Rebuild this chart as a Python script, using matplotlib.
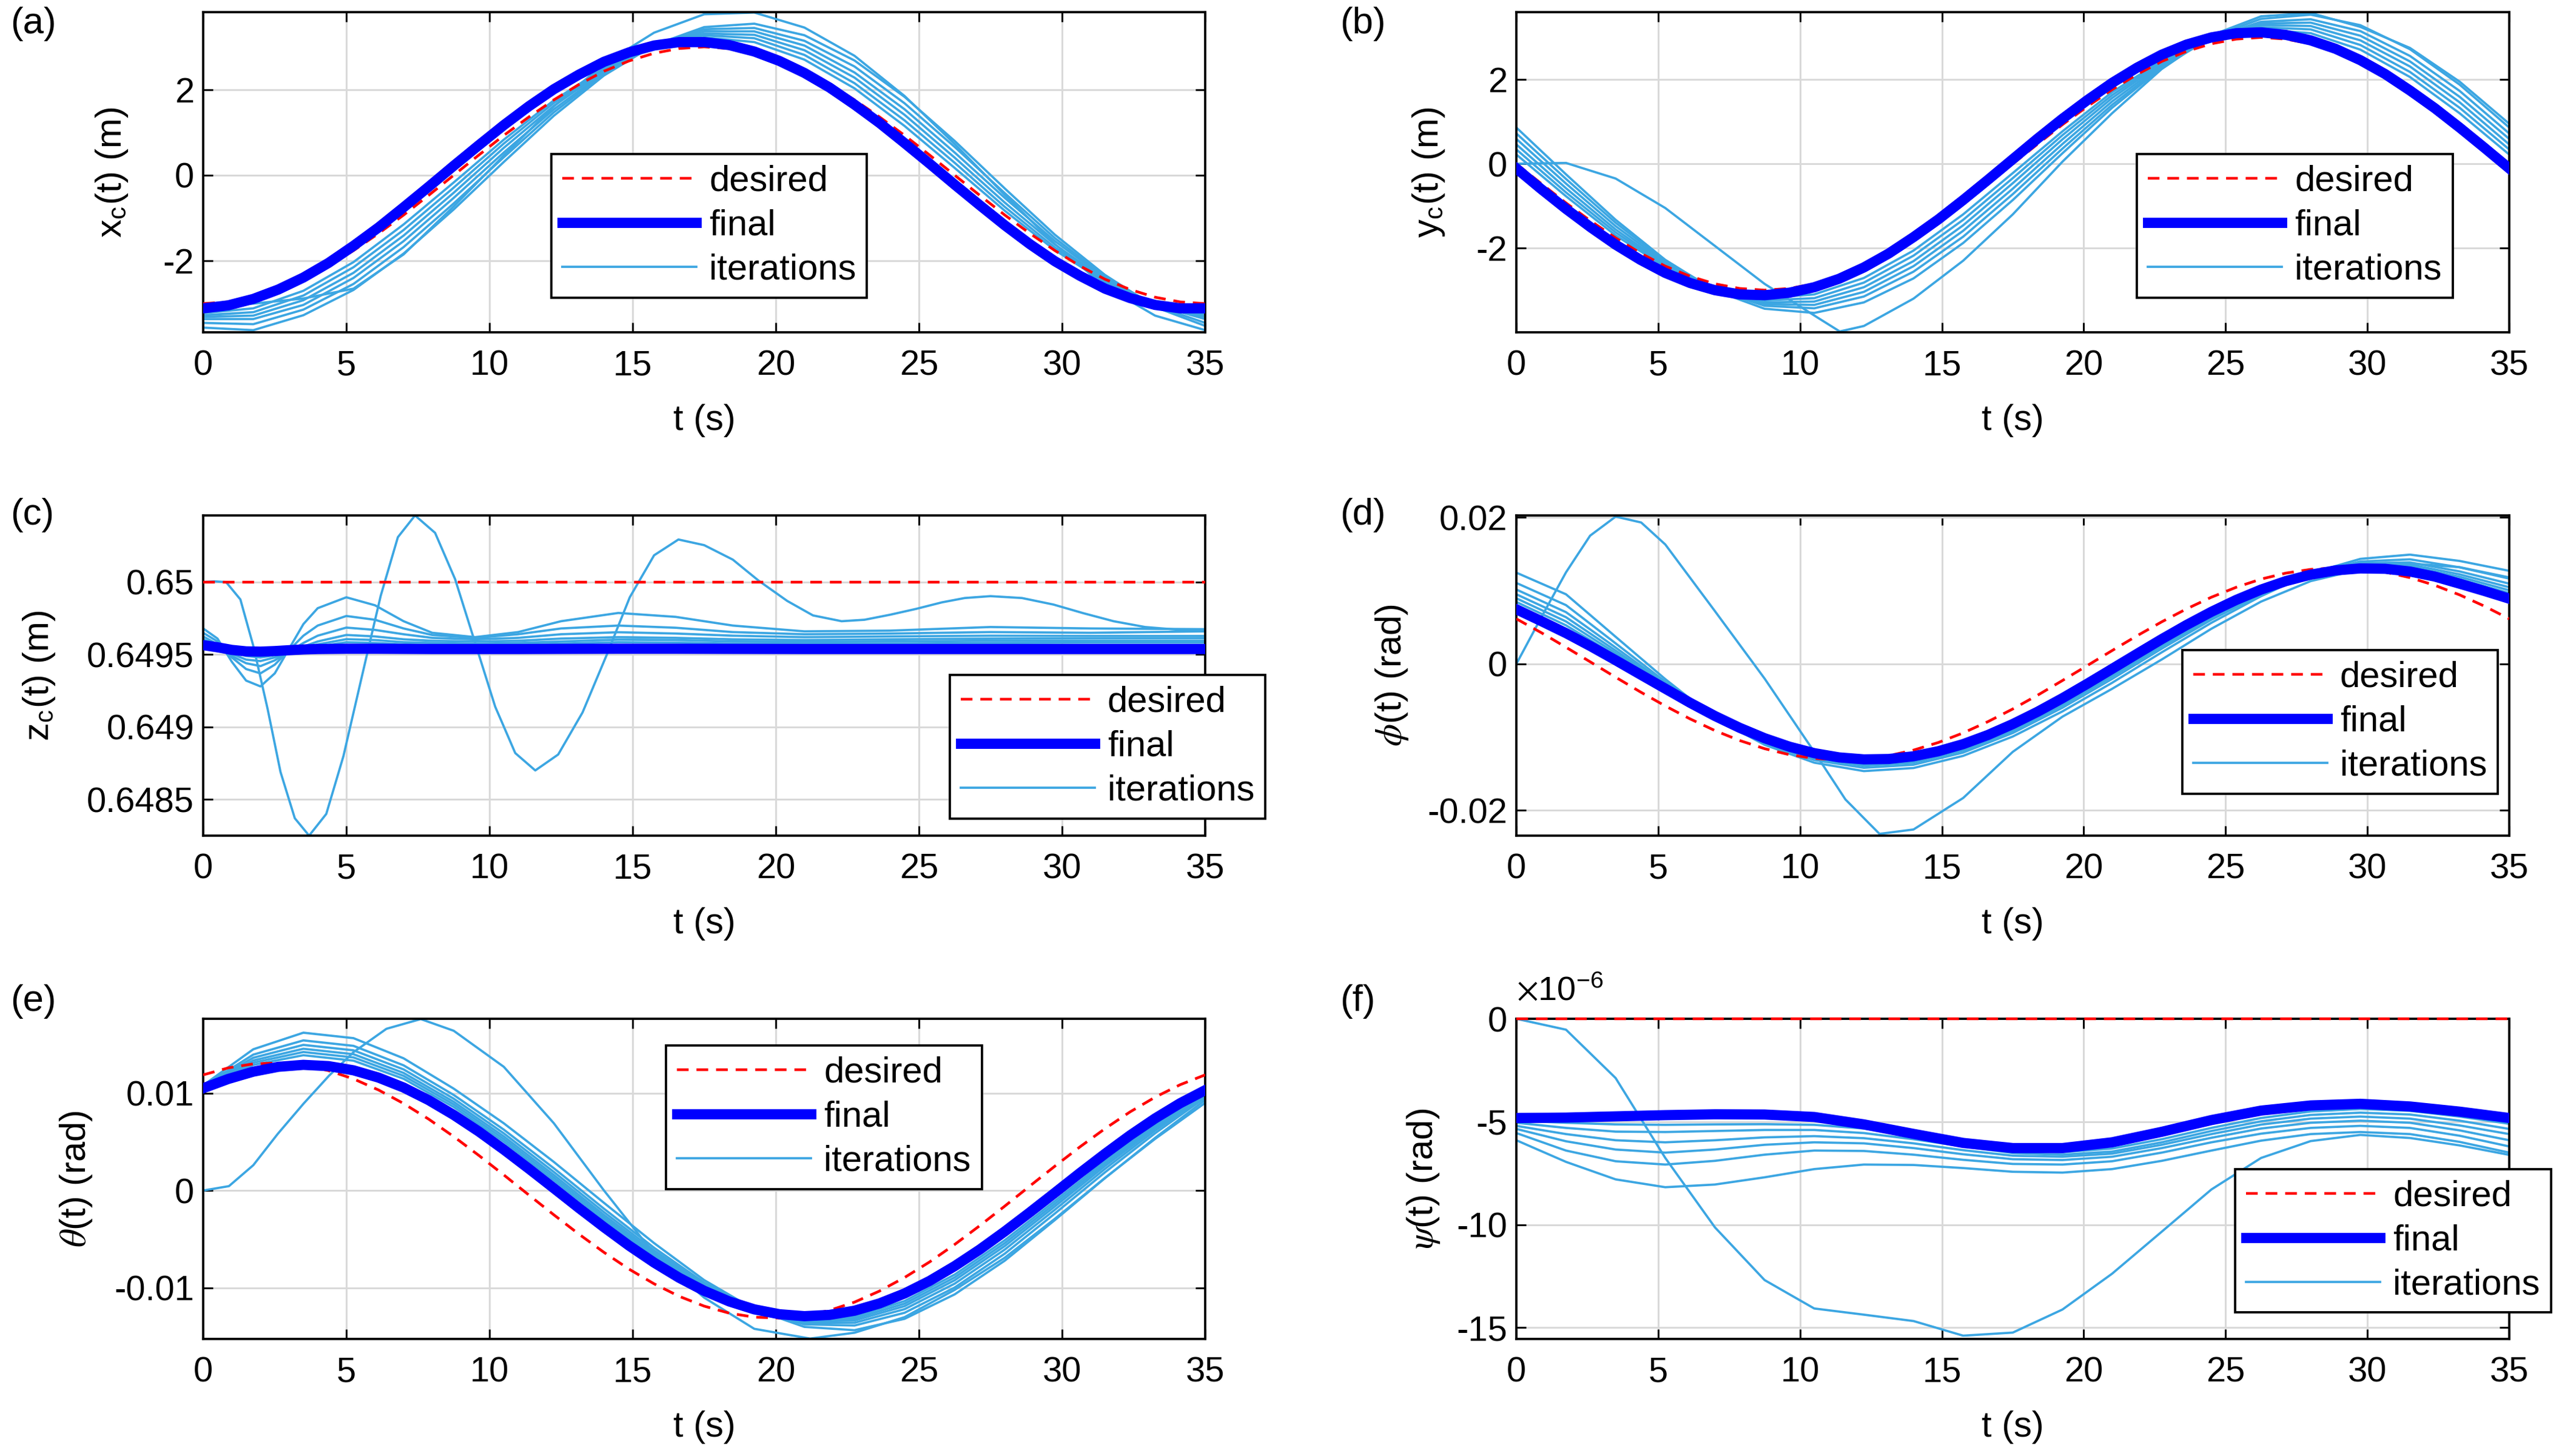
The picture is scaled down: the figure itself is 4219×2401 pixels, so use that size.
import matplotlib
matplotlib.use("Agg")
import matplotlib.pyplot as plt
from matplotlib.lines import Line2D

plt.rcParams["font.family"] = ["Liberation Sans", "DejaVu Sans"]
plt.rcParams["mathtext.fontset"] = "stix"
plt.rcParams["axes.unicode_minus"] = False

# common time samples (s)
t_grid = [0, 1.75, 3.5, 5.25, 7, 8.75, 10.5, 12.25, 14, 15.75, 17.5,
          19.25, 21, 22.75, 24.5, 26.25, 28, 29.75, 31.5, 33.25, 35]
t_fine = [0, 0.875, 1.75, 2.625, 3.5, 4.375, 5.25, 6.125, 7, 7.875, 8.75, 9.625,
          10.5, 11.375, 12.25, 13.125, 14, 14.875, 15.75, 16.625, 17.5, 18.375,
          19.25, 20.125, 21, 21.875, 22.75, 23.625, 24.5, 25.375, 26.25, 27.125,
          28, 28.875, 29.75, 30.625, 31.5, 32.375, 33.25, 34.125, 35]

# (a) x_c (m)
xc_desired = [-3.00, -2.96, -2.85, -2.67, -2.43, -2.12, -1.76, -1.36, -0.93, -0.47, 0.00,
              0.47, 0.93, 1.36, 1.76, 2.12, 2.43, 2.67, 2.85, 2.96, 3.00,
              2.96, 2.85, 2.67, 2.43, 2.12, 1.76, 1.36, 0.93, 0.47, 0.00,
              -0.47, -0.93, -1.36, -1.76, -2.12, -2.43, -2.67, -2.85, -2.96, -3.00]
xc_final = [-3.11, -3.04, -2.89, -2.67, -2.39, -2.05, -1.65, -1.22, -0.75, -0.27, 0.22,
            0.70, 1.17, 1.61, 2.01, 2.35, 2.65, 2.87, 3.03, 3.11, 3.11,
            3.04, 2.89, 2.67, 2.39, 2.05, 1.65, 1.22, 0.75, 0.27, -0.22,
            -0.70, -1.17, -1.61, -2.01, -2.35, -2.65, -2.87, -3.03, -3.11, -3.11]
xc_iters = [
    [-3.22, -3.11, -2.70, -2.03, -1.15, -0.17, 0.83, 1.75, 2.50, 3.01, 3.22,
     3.11, 2.70, 2.03, 1.15, 0.17, -0.83, -1.75, -2.50, -3.01, -3.22],
    [-3.27, -3.20, -2.81, -2.15, -1.28, -0.29, 0.74, 1.69, 2.48, 3.02, 3.27,
     3.20, 2.81, 2.15, 1.28, 0.29, -0.74, -1.69, -2.48, -3.02, -3.27],
    [-3.31, -3.28, -2.92, -2.28, -1.41, -0.41, 0.64, 1.62, 2.44, 3.03, 3.31,
     3.28, 2.92, 2.28, 1.41, 0.41, -0.64, -1.62, -2.44, -3.03, -3.31],
    [-3.36, -3.36, -3.03, -2.40, -1.54, -0.53, 0.53, 1.54, 2.40, 3.03, 3.36,
     3.36, 3.03, 2.40, 1.54, 0.53, -0.53, -1.54, -2.40, -3.03, -3.36],
    [-3.45, -3.48, -3.14, -2.54, -1.68, -0.66, 0.42, 1.47, 2.37, 3.03, 3.41,
     3.44, 3.14, 2.54, 1.68, 0.66, -0.42, -1.47, -2.37, -3.05, -3.45],
    [-3.56, -3.62, -3.27, -2.68, -1.83, -0.80, 0.31, 1.39, 2.33, 3.04, 3.46,
     3.54, 3.27, 2.68, 1.83, 0.80, -0.31, -1.39, -2.33, -3.08, -3.52],
    [-3.05, -3.00, -2.88, -2.65, -1.85, -0.73, 0.46, 1.61, 2.60, 3.33, 3.76,
     3.80, 3.45, 2.79, 1.85, 0.73, -0.46, -1.61, -2.60, -3.28, -3.62],
]

# (b) y_c (m)
yc_desired = [0.00, -0.47, -0.93, -1.36, -1.76, -2.12, -2.43, -2.67, -2.85, -2.96, -3.00,
              -2.96, -2.85, -2.67, -2.43, -2.12, -1.76, -1.36, -0.93, -0.47, 0.00,
              0.47, 0.93, 1.36, 1.76, 2.12, 2.43, 2.67, 2.85, 2.96, 3.00,
              2.96, 2.85, 2.67, 2.43, 2.12, 1.76, 1.36, 0.93, 0.47, 0.00]
yc_final = [-0.11, -0.60, -1.07, -1.51, -1.92, -2.28, -2.59, -2.83, -3.00, -3.10, -3.12,
            -3.06, -2.93, -2.73, -2.46, -2.13, -1.74, -1.32, -0.86, -0.38, 0.11,
            0.60, 1.07, 1.51, 1.92, 2.28, 2.59, 2.83, 3.00, 3.10, 3.12,
            3.06, 2.93, 2.73, 2.46, 2.13, 1.74, 1.32, 0.86, 0.38, -0.11]
yc_iters = [
    [0.22, -0.77, -1.70, -2.45, -2.97, -3.19, -3.10, -2.71, -2.06, -1.20, -0.22,
     0.77, 1.70, 2.45, 2.97, 3.19, 3.10, 2.71, 2.06, 1.20, 0.22],
    [0.34, -0.68, -1.63, -2.42, -2.98, -3.24, -3.19, -2.82, -2.18, -1.33, -0.34,
     0.68, 1.63, 2.42, 2.98, 3.24, 3.19, 2.82, 2.18, 1.33, 0.34],
    [0.46, -0.58, -1.56, -2.39, -2.98, -3.29, -3.27, -2.93, -2.31, -1.46, -0.46,
     0.58, 1.56, 2.39, 2.98, 3.29, 3.27, 2.93, 2.31, 1.46, 0.46],
    [0.59, -0.47, -1.48, -2.35, -2.98, -3.33, -3.35, -3.04, -2.43, -1.59, -0.59,
     0.47, 1.48, 2.35, 2.98, 3.33, 3.35, 3.04, 2.43, 1.59, 0.59],
    [0.72, -0.36, -1.40, -2.31, -2.99, -3.37, -3.43, -3.15, -2.56, -1.73, -0.72,
     0.36, 1.40, 2.31, 2.99, 3.37, 3.43, 3.15, 2.56, 1.73, 0.72],
    [0.86, -0.25, -1.33, -2.28, -3.01, -3.44, -3.54, -3.29, -2.72, -1.88, -0.86,
     0.25, 1.33, 2.28, 3.01, 3.44, 3.54, 3.29, 2.72, 1.88, 0.86],
]
t_yc_first = [0, 1.75, 3.5, 5.25, 7, 8.75, 10.5, 11.4, 12.25, 14, 15.75, 17.5,
              19.25, 21, 22.75, 24.5, 26.25, 28, 29.75, 31.5, 33.25, 35]
yc_first = [0.00, 0.02, -0.35, -1.05, -1.95, -2.85, -3.60, -3.98, -3.85, -3.20, -2.30,
            -1.20, 0.05, 1.20, 2.25, 3.05, 3.50, 3.58, 3.25, 2.75, 1.95, 0.95]

# (c) z_c (m)
t_zc = [0, 0.5, 1, 1.5, 2, 2.5, 3, 3.5, 4, 5, 6, 7, 8, 9.5, 11, 12.5,
        14.5, 16.5, 18.5, 21, 24, 27.5, 31, 35]
zc_desired = [0.65, 0.65]
zc_final = [0.649565, 0.64955, 0.649532, 0.649522, 0.64952, 0.649524, 0.64953, 0.649535,
            0.649538, 0.64954, 0.64954, 0.649539, 0.649538, 0.649538, 0.649538, 0.649539,
            0.64954, 0.64954, 0.649539, 0.649538, 0.649538, 0.649538, 0.649538, 0.649538]
zc_iters = [
    [0.64968, 0.64961, 0.64945, 0.64932, 0.64928, 0.64937, 0.64954, 0.64971,
     0.64982, 0.649895, 0.64984, 0.64973, 0.64965, 0.64962, 0.649655, 0.64973,
     0.649787, 0.64976, 0.6497, 0.64966, 0.649665, 0.64969, 0.64968, 0.649675],
    [0.64965, 0.64959, 0.64948, 0.6494, 0.64937, 0.64943, 0.64953, 0.64963,
     0.6497, 0.649766, 0.64974, 0.64968, 0.649635, 0.649615, 0.64964, 0.64968,
     0.6497, 0.649685, 0.649655, 0.64964, 0.649645, 0.649655, 0.64965, 0.64966],
    [0.649625, 0.64957, 0.64949, 0.64944, 0.64942, 0.64946, 0.64952, 0.64958,
     0.64963, 0.649686, 0.64967, 0.64964, 0.649615, 0.649605, 0.649615, 0.64964,
     0.649654, 0.649645, 0.64963, 0.64962, 0.649625, 0.64963, 0.649628, 0.649628],
    [0.649605, 0.64956, 0.649505, 0.649465, 0.649455, 0.64948, 0.649515, 0.649555,
     0.64959, 0.649635, 0.649625, 0.649605, 0.649595, 0.64959, 0.649595, 0.64961,
     0.64962, 0.649615, 0.649605, 0.6496, 0.649605, 0.64961, 0.649612, 0.649614],
    [0.64959, 0.649555, 0.649515, 0.64949, 0.64948, 0.649495, 0.64952, 0.649545,
     0.64957, 0.649606, 0.6496, 0.649585, 0.64958, 0.649575, 0.64958, 0.64959,
     0.649603, 0.6496, 0.64959, 0.649588, 0.64959, 0.649595, 0.649595, 0.649596],
    [0.649575, 0.64955, 0.64952, 0.649505, 0.6495, 0.64951, 0.649525, 0.64954,
     0.649555, 0.649585, 0.64958, 0.64957, 0.649565, 0.649562, 0.649567, 0.649575,
     0.649585, 0.649582, 0.649575, 0.649573, 0.649575, 0.64958, 0.649582, 0.649582],
]
t_zc_first = [0, 0.4, 0.8, 1.3, 1.75, 2.25, 2.7, 3.2, 3.7, 4.3, 4.9, 5.55, 6.2, 6.8,
              7.4, 8.1, 8.8, 9.5, 10.2, 10.9, 11.6, 12.4, 13.25, 14.1, 14.9, 15.75,
              16.6, 17.5, 18.5, 19.4, 20.4, 21.3, 22.3, 23.1, 24.0, 24.9, 25.8, 26.6,
              27.5, 28.6, 29.7, 30.75, 31.8, 32.9, 34.0, 35]
zc_first = [0.65, 0.650005, 0.65, 0.64988, 0.64956, 0.649125, 0.64869, 0.64837, 0.64825,
            0.6484, 0.6488, 0.649355, 0.649905, 0.65031, 0.65046, 0.65034, 0.65002,
            0.64958, 0.64914, 0.64882, 0.6487, 0.64881, 0.6491, 0.6495, 0.649895,
            0.650185, 0.650294, 0.650255, 0.650155, 0.65001, 0.64987, 0.64977, 0.64973,
            0.64974, 0.649775, 0.649815, 0.64986, 0.64989, 0.649903, 0.64989, 0.649845,
            0.649785, 0.64973, 0.64969, 0.649672, 0.649672]

# (d) phi (rad)
phi_desired = [0.00615, 0.00427, 0.00227, 0.00023, -0.00182, -0.00383, -0.00574, -0.00751,
               -0.0091, -0.01046, -0.01157, -0.01239, -0.0129, -0.0131, -0.01297, -0.01253,
               -0.01177, -0.01073, -0.00942, -0.00788, -0.00615, -0.00427, -0.00227,
               -0.00023, 0.00182, 0.00383, 0.00574, 0.00751, 0.0091, 0.01046, 0.01157,
               0.01239, 0.0129, 0.0131, 0.01297, 0.01253, 0.01177, 0.01073, 0.00942,
               0.00788, 0.00615]
phi_final = [0.00745, 0.00585, 0.0042, 0.0024, 0.0005, -0.00145, -0.00338, -0.00531,
             -0.00711, -0.00873, -0.01014, -0.0113, -0.01218, -0.01276, -0.01303, -0.01298,
             -0.01261, -0.01192, -0.01095, -0.0097, -0.00821, -0.00653, -0.00468, -0.00271,
             -0.00068, 0.00136, 0.00338, 0.00531, 0.00711, 0.00873, 0.01014, 0.0113,
             0.01218, 0.01276, 0.01303, 0.01298, 0.01261, 0.01192, 0.01095, 0.00995, 0.0089]
phi_iters = [
    [0.01245, 0.0095, 0.0037, -0.00208, -0.00741, -0.01104, -0.01348, -0.01463, -0.01421,
     -0.01255, -0.00991, -0.00648, -0.00258, 0.00158, 0.00561, 0.00924, 0.01238, 0.01433,
     0.01491, 0.01405, 0.0127],
    [0.01105, 0.00802, 0.0028, -0.00244, -0.00733, -0.01079, -0.01312, -0.01418, -0.01376,
     -0.0121, -0.00943, -0.00598, -0.00205, 0.00208, 0.00603, 0.00949, 0.01232, 0.01397,
     0.01427, 0.01318, 0.01164],
    [0.01015, 0.00706, 0.00223, -0.00268, -0.00727, -0.01063, -0.01288, -0.01389, -0.01347,
     -0.01181, -0.00913, -0.00565, -0.00171, 0.00241, 0.0063, 0.00965, 0.01229, 0.01373,
     0.01385, 0.01262, 0.01095],
    [0.0095, 0.00637, 0.00181, -0.00285, -0.00723, -0.01051, -0.01271, -0.01369, -0.01327,
     -0.01161, -0.00891, -0.00542, -0.00146, 0.00264, 0.00649, 0.00977, 0.01226, 0.01356,
     0.01355, 0.01222, 0.01046],
    [0.00895, 0.00579, 0.00146, -0.00299, -0.0072, -0.01041, -0.01257, -0.01351, -0.01309,
     -0.01143, -0.00872, -0.00522, -0.00125, 0.00284, 0.00666, 0.00987, 0.01224, 0.01342,
     0.0133, 0.01188, 0.01004],
    [0.00845, 0.00526, 0.00114, -0.00312, -0.00717, -0.01032, -0.01244, -0.01335, -0.01293,
     -0.01127, -0.00855, -0.00504, -0.00106, 0.00302, 0.00681, 0.00996, 0.01222, 0.01329,
     0.01307, 0.01157, 0.00966],
]
t_phi_first = [0, 0.9, 1.75, 2.6, 3.5, 4.4, 5.25, 7, 8.75, 10.5, 11.6, 12.8, 14, 15.75,
               17.5, 19.25, 21, 22.75, 24.5, 26.25, 28, 29.75, 31.5, 33.25, 35]
phi_first = [0.0, 0.0065, 0.0125, 0.0175, 0.0201, 0.0193, 0.0163, 0.0072, -0.002, -0.012,
             -0.0185, -0.0232, -0.0226, -0.0183, -0.012, -0.0072, -0.0034, 0.0006, 0.0048,
             0.0085, 0.0113, 0.0129, 0.0137, 0.0132, 0.0118]

# (e) theta (rad)
theta_desired = [0.01187, 0.01259, 0.013, 0.01309, 0.01286, 0.01231, 0.01146, 0.01032,
                 0.00893, 0.00733, 0.00554, 0.00361, 0.0016, -0.00046, -0.0025, -0.00448,
                 -0.00635, -0.00807, -0.00958, -0.01086, -0.01187, -0.01259, -0.013,
                 -0.01309, -0.01286, -0.01231, -0.01146, -0.01032, -0.00893, -0.00733,
                 -0.00554, -0.00361, -0.0016, 0.00046, 0.0025, 0.00448, 0.00635, 0.00807,
                 0.00958, 0.01086, 0.01187]
theta_final = [0.0105, 0.01145, 0.0122, 0.0127, 0.0129, 0.01277, 0.01234, 0.01159, 0.01057,
               0.00928, 0.00776, 0.00606, 0.0042, 0.00224, 0.00023, -0.0018, -0.00377,
               -0.00566, -0.0074, -0.00896, -0.0103, -0.01139, -0.0122, -0.0127, -0.0129,
               -0.01277, -0.01234, -0.01159, -0.01057, -0.00928, -0.00776, -0.00606,
               -0.0042, -0.00224, -0.00023, 0.0018, 0.00377, 0.00566, 0.0074, 0.00896,
               0.0103]
theta_iters = [
    [0.0108, 0.0145, 0.0162, 0.01564, 0.01357, 0.01046, 0.0069, 0.00293, -0.00127, -0.0054,
     -0.0092, -0.0122, -0.014, -0.01434, -0.01317, -0.01066, -0.0072, -0.00303, 0.00127,
     0.0054, 0.0093],
    [0.01073, 0.01395, 0.01541, 0.01485, 0.01285, 0.00981, 0.00625, 0.00228, -0.00187,
     -0.00588, -0.00946, -0.0122, -0.01374, -0.01386, -0.01255, -0.00996, -0.00648,
     -0.00236, 0.00187, 0.00588, 0.00954],
    [0.01069, 0.01363, 0.01495, 0.01439, 0.01243, 0.00943, 0.00587, 0.0019, -0.00222,
     -0.00616, -0.00962, -0.0122, -0.01358, -0.01358, -0.01218, -0.00956, -0.00606,
     -0.00197, 0.00222, 0.00616, 0.00968],
    [0.01065, 0.01335, 0.01455, 0.01399, 0.01207, 0.00911, 0.00555, 0.00158, -0.00252,
     -0.0064, -0.00975, -0.0122, -0.01345, -0.01334, -0.01187, -0.00921, -0.0057,
     -0.00163, 0.00252, 0.0064, 0.0098],
    [0.01062, 0.01312, 0.01422, 0.01366, 0.01177, 0.00884, 0.00528, 0.00131, -0.00277,
     -0.0066, -0.00986, -0.0122, -0.01334, -0.01314, -0.01161, -0.00892, -0.0054,
     -0.00135, 0.00277, 0.0066, 0.0099],
    [0.01059, 0.01289, 0.01389, 0.01333, 0.01147, 0.00857, 0.00501, 0.00104, -0.00302,
     -0.0068, -0.00997, -0.0122, -0.01323, -0.01294, -0.01135, -0.00863, -0.0051,
     -0.00107, 0.00302, 0.0068, 0.01],
]
t_theta_first = [0, 0.9, 1.75, 2.6, 3.5, 4.4, 5.25, 6.4, 7.6, 8.75, 10.5, 12.25, 14, 15.75,
                 17.5, 19.25, 21.2, 22.75, 24.5, 26.25, 28, 29.75, 31.5, 33.25, 35]
theta_first = [0.0, 0.00045, 0.0026, 0.0058, 0.0089, 0.0118, 0.0142, 0.0166, 0.0176, 0.0164,
               0.0127, 0.0069, 0.0, -0.0065, -0.011, -0.0142, -0.0152, -0.0146, -0.013,
               -0.0102, -0.0069, -0.0029, 0.0013, 0.0053, 0.009]

# (f) psi (rad)
psi_desired = [0.0, 0.0]
psi_final = [-4.82e-6, -4.80e-6, -4.74e-6, -4.68e-6, -4.64e-6, -4.65e-6, -4.77e-6, -5.13e-6,
             -5.59e-6, -6.03e-6, -6.28e-6, -6.28e-6, -6.00e-6, -5.49e-6, -4.92e-6, -4.46e-6,
             -4.21e-6, -4.13e-6, -4.26e-6, -4.51e-6, -4.82e-6]
psi_iters = [
    [-5.9e-6, -6.95e-6, -7.8e-6, -8.18e-6, -8.05e-6, -7.7e-6, -7.3e-6, -7.08e-6, -7.1e-6,
     -7.25e-6, -7.43e-6, -7.47e-6, -7.3e-6, -6.9e-6, -6.4e-6, -5.92e-6, -5.6e-6, -5.5e-6,
     -5.6e-6, -5.98e-6, -6.5e-6],
    [-5.55e-6, -6.4e-6, -6.92e-6, -7.08e-6, -6.9e-6, -6.6e-6, -6.4e-6, -6.42e-6, -6.6e-6,
     -6.85e-6, -7.05e-6, -7.08e-6, -6.92e-6, -6.5e-6, -6.0e-6, -5.58e-6, -5.3e-6, -5.2e-6,
     -5.3e-6, -5.68e-6, -6.2e-6],
    [-5.35e-6, -5.95e-6, -6.35e-6, -6.5e-6, -6.35e-6, -6.12e-6, -6.0e-6, -6.05e-6, -6.28e-6,
     -6.58e-6, -6.82e-6, -6.86e-6, -6.7e-6, -6.28e-6, -5.78e-6, -5.33e-6, -5.05e-6, -4.95e-6,
     -5.05e-6, -5.42e-6, -5.9e-6],
    [-5.2e-6, -5.6e-6, -5.9e-6, -6.0e-6, -5.9e-6, -5.76e-6, -5.7e-6, -5.8e-6, -6.05e-6,
     -6.38e-6, -6.65e-6, -6.7e-6, -6.55e-6, -6.12e-6, -5.6e-6, -5.14e-6, -4.85e-6, -4.75e-6,
     -4.85e-6, -5.18e-6, -5.6e-6],
    [-5.05e-6, -5.3e-6, -5.48e-6, -5.5e-6, -5.45e-6, -5.4e-6, -5.4e-6, -5.55e-6, -5.85e-6,
     -6.2e-6, -6.52e-6, -6.6e-6, -6.45e-6, -6.0e-6, -5.45e-6, -4.98e-6, -4.67e-6, -4.56e-6,
     -4.65e-6, -4.95e-6, -5.35e-6],
    [-4.95e-6, -5.05e-6, -5.13e-6, -5.15e-6, -5.13e-6, -5.12e-6, -5.15e-6, -5.33e-6, -5.65e-6,
     -6.03e-6, -6.38e-6, -6.48e-6, -6.3e-6, -5.85e-6, -5.3e-6, -4.82e-6, -4.5e-6, -4.38e-6,
     -4.47e-6, -4.75e-6, -5.1e-6],
    [0.0, -0.53e-6, -2.88e-6, -6.76e-6, -10.13e-6, -12.69e-6, -14.07e-6, -14.37e-6, -14.68e-6,
     -15.39e-6, -15.24e-6, -14.12e-6, -12.38e-6, -10.34e-6, -8.29e-6, -6.76e-6, -5.94e-6,
     -5.64e-6, -5.79e-6, -6.15e-6, -6.61e-6],
]

DES_COLOR = "#ff0000"
FIN_COLOR = "#0000ff"
ITER_COLOR = "#3ca6e2"
DES_DASH = (4.3, 2.9)

W, H = 4219, 2401
fig = plt.figure(figsize=(15.68, 15.68 * H / W), dpi=W / 15.68)

col_left = [335 / W, 2500 / W]
col_width = [1652 / W, 1637 / W]
row_bottom = [1 - 548 / H, 1 - 1378 / H, 1 - 2208 / H]
row_height = 528 / H


def draw_panel(ax, desired, final, iters, ylim, yticks, yticklabels, ylabel,
               ylabel_x, leg_xy, clip_desired=True):
    for t, v in iters:
        ax.plot(t, v, color=ITER_COLOR, lw=1.0, zorder=2, solid_joinstyle="round")
    ax.plot(desired[0], desired[1], color=DES_COLOR, lw=1.2, dashes=DES_DASH,
            zorder=5 if not clip_desired else 3, clip_on=clip_desired)
    ax.plot(final[0], final[1], color=FIN_COLOR, lw=4.5, zorder=4,
            solid_joinstyle="round")
    ax.set_xlim(0, 35)
    ax.set_ylim(*ylim)
    ax.set_xticks(range(0, 36, 5))
    ax.set_yticks(yticks)
    ax.set_yticklabels(yticklabels)
    ax.grid(True, color="#d9d9d9", lw=0.8)
    ax.set_axisbelow(True)
    for sp in ax.spines.values():
        sp.set_linewidth(1.0)
    ax.tick_params(direction="in", length=4.3, width=0.8, top=True, right=True,
                   labelsize=15.5)
    ax.tick_params(axis="x", pad=7.5)
    ax.tick_params(axis="y", pad=4)
    ax.set_xlabel("t (s)", fontsize=16, labelpad=9.5)
    ax.set_ylabel(ylabel, fontsize=16)
    ax.yaxis.set_label_coords(ylabel_x, 0.5)
    handles = [
        Line2D([], [], color=DES_COLOR, lw=1.2, dashes=DES_DASH),
        Line2D([], [], color=FIN_COLOR, lw=4.5),
        Line2D([], [], color=ITER_COLOR, lw=1.0),
    ]
    leg = ax.legend(handles, ["desired", "final", "iterations"], loc="upper left",
                    bbox_to_anchor=leg_xy, fontsize=16, frameon=True, fancybox=False,
                    framealpha=1, edgecolor="black", handlelength=3.7,
                    handletextpad=0.35, borderpad=0.3, labelspacing=0.3,
                    borderaxespad=0)
    leg.get_frame().set_linewidth(1.0)
    leg.set_zorder(10)
    return ax


axs = []
for r in range(3):
    for c in range(2):
        axs.append(fig.add_axes([col_left[c], row_bottom[r], col_width[c], row_height]))

draw_panel(axs[0], (t_fine, xc_desired), (t_fine, xc_final),
           [(t_grid, v) for v in xc_iters], (-3.67, 3.81), [-2, 0, 2], ["-2", "0", "2"],
           r"x$_\mathregular{c}$(t) (m)", -0.073, (0.3475, 0.557))

draw_panel(axs[1], (t_fine, yc_desired), (t_fine, yc_final),
           [(t_grid, v) for v in yc_iters] + [(t_yc_first, yc_first)], (-4.0, 3.6),
           [-2, 0, 2], ["-2", "0", "2"], r"y$_\mathregular{c}$(t) (m)", -0.070,
           (0.625, 0.557))

draw_panel(axs[2], ([0, 35], zc_desired), (t_zc, zc_final),
           [(t_zc, v) for v in zc_iters] + [(t_zc_first, zc_first)], (0.64825, 0.65046),
           [0.6485, 0.649, 0.6495, 0.65], ["0.6485", "0.649", "0.6495", "0.65"],
           r"z$_\mathregular{c}$(t) (m)", -0.146, (0.745, 0.502))

draw_panel(axs[3], (t_fine, phi_desired), (t_fine, phi_final),
           [(t_grid, v) for v in phi_iters] + [(t_phi_first, phi_first)],
           (-0.02344, 0.02026), [-0.02, 0, 0.02], ["-0.02", "0", "0.02"],
           r"$\phi$(t) (rad)", -0.107, (0.6705, 0.580))

draw_panel(axs[4], (t_fine, theta_desired), (t_fine, theta_final),
           [(t_grid, v) for v in theta_iters] + [(t_theta_first, theta_first)],
           (-0.01524, 0.01763), [-0.01, 0, 0.01], ["-0.01", "0", "0.01"],
           r"$\theta$(t) (rad)", -0.109, (0.462, 0.917))

draw_panel(axs[5], ([0, 35], psi_desired), (t_grid, psi_final),
           [(t_grid, v) for v in psi_iters], (-15.55e-6, 0.0),
           [-15e-6, -10e-6, -5e-6, 0], ["-15", "-10", "-5", "0"],
           r"$\psi$(t) (rad)", -0.075, (0.724, 0.531), clip_desired=False)
axs[5].text(0.0, 1.035, r"$\times\mathregular{10^{-6}}$", transform=axs[5].transAxes,
            ha="left", va="bottom", fontsize=15)

for lab, x, y in [("(a)", 0.004, 0.9955), ("(b)", 0.5236, 0.9955),
                  ("(c)", 0.004, 0.658), ("(d)", 0.5236, 0.658),
                  ("(e)", 0.004, 0.324), ("(f)", 0.5236, 0.324)]:
    fig.text(x, y, lab, ha="left", va="top", fontsize=16.5)

fig.savefig("out.png", dpi=W / 15.68)
